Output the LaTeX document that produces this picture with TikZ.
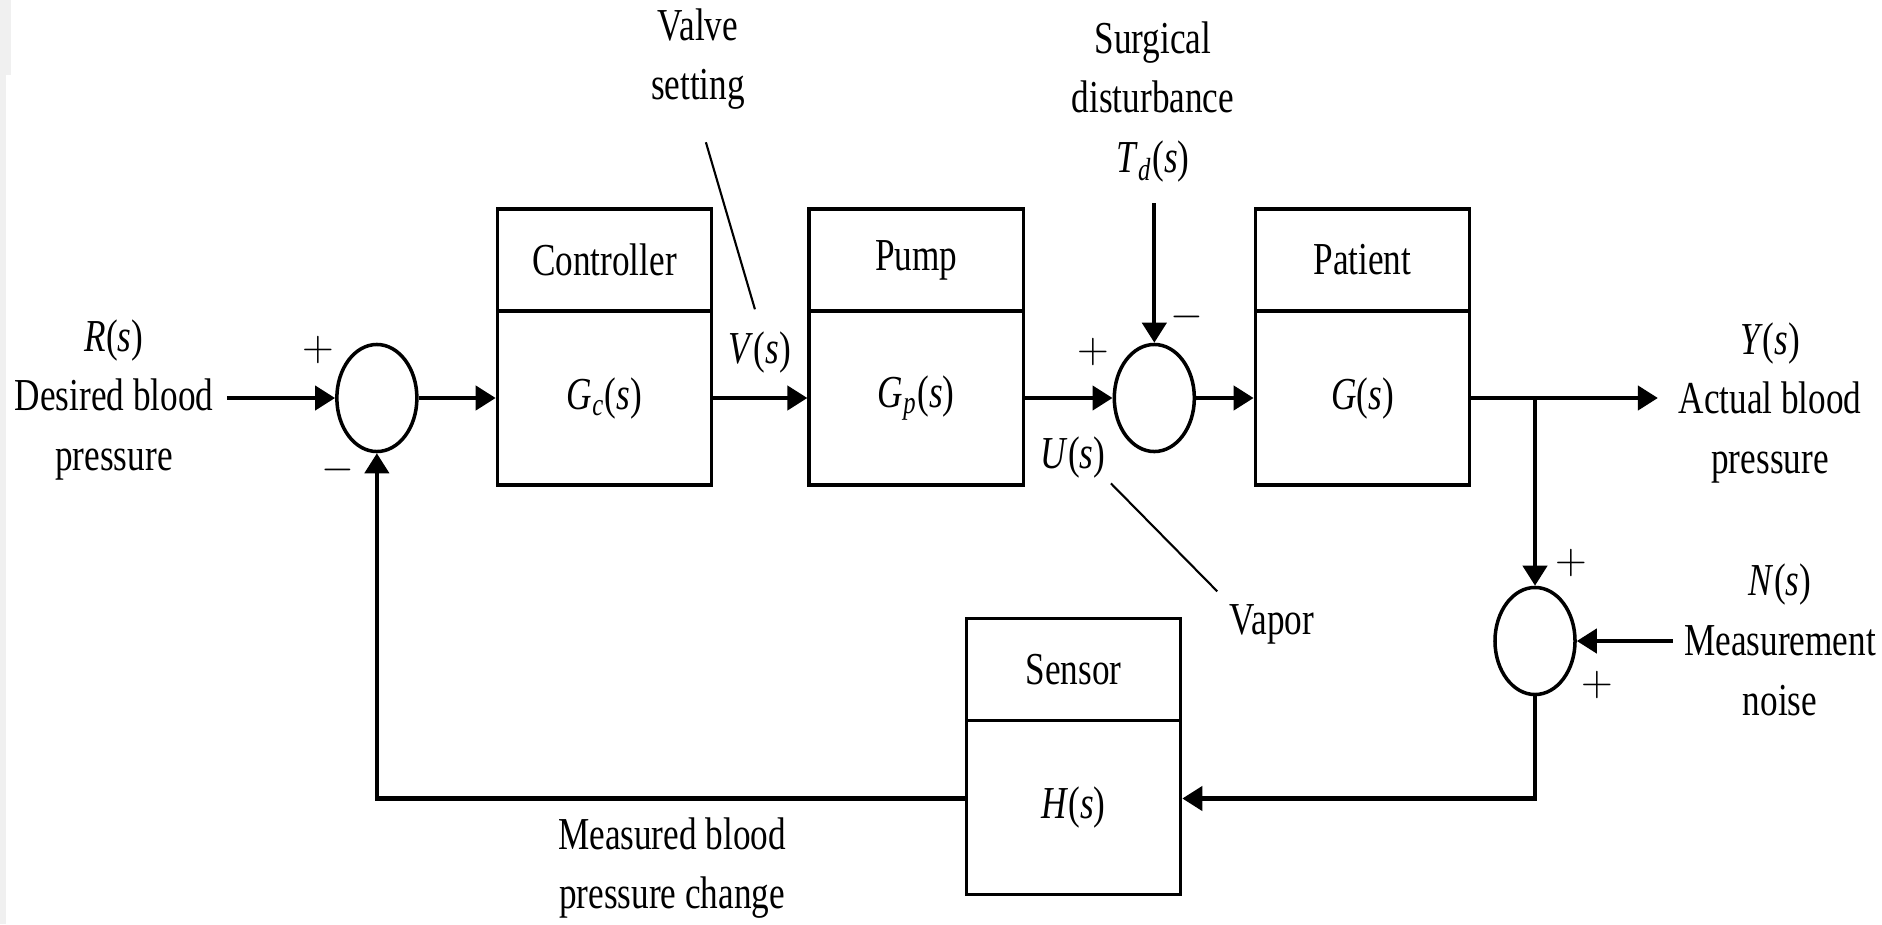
\documentclass[tikz,border=0pt]{standalone}
\usepackage{fontspec}
\setmainfont{Liberation Serif}[FakeStretch=0.77]
\usetikzlibrary{shapes.geometric,arrows.meta}
\newcommand{\sofs}[1]{\textit{#1}(\textit{s})}

\begin{document}
\begin{tikzpicture}[x=0.01cm, y=-0.01cm, node distance=2cm,
        >={Triangle[length=2mm,width=2.4mm]},
        every node/.style={font=\fontsize{13}{17}\selectfont},
        blk/.style={draw, rectangle, line width=1pt, minimum width=2.14cm, minimum height=1.74cm},
        hdr/.style={draw, rectangle, line width=1pt, minimum width=2.14cm, minimum height=1.02cm},
        sumj/.style={draw, ellipse, line width=1pt, minimum width=0.8cm, minimum height=1.07cm, inner sep=0pt},
        lbl/.style={align=center, inner sep=0.05cm},
        sig/.style={->, line width=1.2pt},
        leader/.style={line width=0.6pt}]
        \useasboundingbox (0,0) rectangle (1882,924);
        \fill[gray!12] (0,0) rectangle (6,924);
        \fill[gray!12] (0,0) rectangle (11,75);

        % Nodes
        \node[blk] (ctrl) at (604.5,398) {\textit{G}\textsubscript{\textit{c}}(\textit{s})};
        \node[hdr, above of=ctrl, yshift=-0.62cm] (ctrlh) {Controller};
        \node[blk, right of=ctrl, xshift=1.115cm] (pump) {\textit{G}\textsubscript{\textit{p}}(\textit{s})};
        \node[hdr, above of=pump, yshift=-0.62cm] (pumph) {Pump};
        \node[sumj, right of=pump, xshift=0.38cm] (sum2) {};
        \node[blk, right of=sum2, xshift=0.08cm] (pat) {\sofs{G}};
        \node[hdr, above of=pat, yshift=-0.62cm] (path) {Patient};
        \node[sumj, left of=ctrl, xshift=-0.275cm] (sum1) {};
        \node[sumj] (sum3) at (1535,641) {};
        \node[blk] (sens) at (1073.5,807.5) {\sofs{H}};
        \node[hdr, above of=sens, yshift=-0.62cm] (sensh) {Sensor};

        % Labels
        \node[lbl] (rin) at (114,400) {\sofs{R}\\Desired blood\\pressure};
        \node[lbl] (yout) at (1770,403) {\sofs{Y}\\Actual blood\\pressure};
        \node[lbl] (nin) at (1780,640) {\sofs{N}\\Measurement\\noise};
        \node[lbl] (valve) at (698,59) {Valve\\setting};
        \node[lbl] (td) at (1153,102) {Surgical\\disturbance\\\textit{T}\textsubscript{\textit{d}}(\textit{s})};
        \node[lbl] (vs) at (760,353) {\sofs{V}};
        \node[lbl] (us) at (1073,457) {\sofs{U}};
        \node[lbl] (vapor) at (1272,624) {Vapor};
        \node[lbl] (meas) at (672,868) {Measured blood\\pressure change};

        % Signs
        \node (p1) at (318,350) {$+$};
        \node (m1) at (338,470) {$-$};
        \node (p2) at (1093,352) {$+$};
        \node (m2) at (1187,317) {$-$};
        \node (p3) at (1571,563) {$+$};
        \node (p4) at (1597,685) {$+$};

        % Arrows
        \draw[sig, shorten <=0.08cm] (rin.east |- sum1) -- (sum1);
        \draw[sig] (sum1) -- (ctrl);
        \draw[sig] (ctrl) -- (pump);
        \draw[sig] (pump) -- (sum2);
        \draw[sig] (sum2) -- (pat);
        \draw[sig, shorten <=0.15cm] (td.south -| sum2) -- (sum2);
        \draw[sig, shorten >=0.15cm] (pat) -- (yout.west |- pat);
        \draw[sig] (pat.east -| sum3) -- (sum3);
        \draw[sig, shorten <=0.06cm] (nin.west |- sum3) -- (sum3);
        \draw[sig] (sum3) |- ([yshift=0.09cm]sens.east);
        \draw[sig] ([yshift=0.09cm]sens.west) -| (sum1);

        % Leaders
        \draw[leader, shorten <=0.28cm, shorten >=0.18cm] (valve.south) -- (vs.north);
        \draw[leader, shorten >=0.1cm] (us.south east) -- (vapor.north west);
    \end{tikzpicture}
\end{document}
